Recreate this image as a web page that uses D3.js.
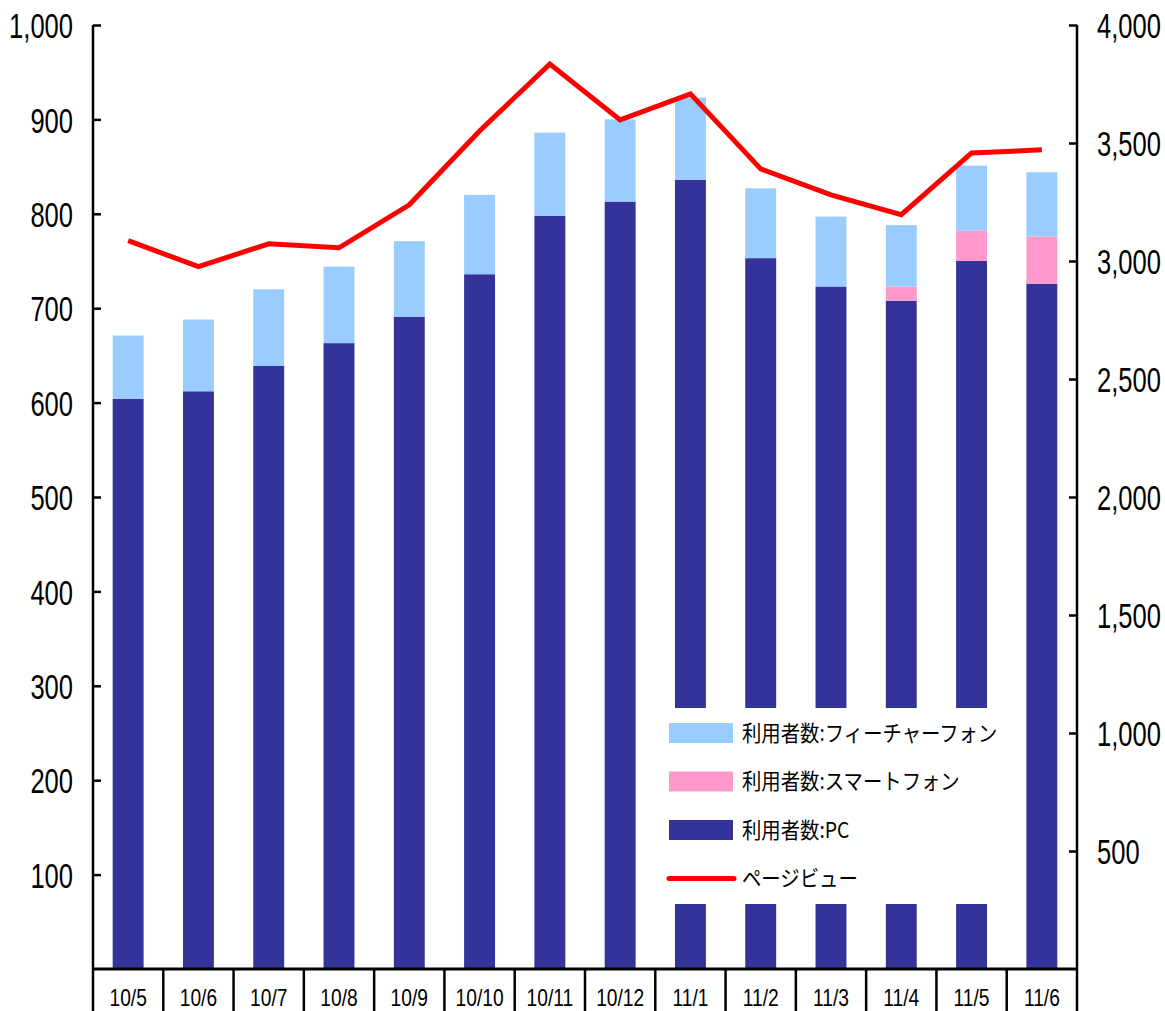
<!DOCTYPE html>
<html>
<head>
<meta charset="utf-8">
<script src="https://cdn.jsdelivr.net/npm/d3@7"></script>
<style>
  body { margin: 0; background: #fff; }
  text { font-family: "Liberation Sans Narrow", "Liberation Sans", Arial, sans-serif; }
  .legend text { font-family: "Noto Sans CJK JP", sans-serif; }
</style>
</head>
<body>
<div id="chart"></div>
<script>
/* Users (stacked bars) and page views (line) by month */

const months = ["10/5", "10/6", "10/7", "10/8", "10/9", "10/10", "10/11", "10/12",
                "11/1", "11/2", "11/3", "11/4", "11/5", "11/6"];
const pcUsers      = [604, 612, 639, 663, 691, 736, 798, 813, 836, 753, 723, 708, 750, 726];
const smartUsers   = [0, 0, 0, 0, 0, 0, 0, 0, 0, 0, 0, 15, 32, 50];
const featureUsers = [67, 76, 81, 81, 80, 84, 88, 87, 87, 74, 74, 65, 69, 68];
const pageViews    = [3086, 2976, 3073, 3056, 3238, 3551, 3835, 3598, 3708, 3390, 3280, 3196, 3458, 3471];
const leftTicks  = [100, 200, 300, 400, 500, 600, 700, 800, 900, 1000];
const rightTicks = [500, 1000, 1500, 2000, 2500, 3000, 3500, 4000];

const seriesNames = ["利用者数:PC", "利用者数:スマートフォン", "利用者数:フィーチャーフォン"];
const colors = ["#333399", "#ff99cc", "#99ccff"];

const width = 1165, height = 1011,
      margin = ({ top: 25, right: 88, bottom: 41, left: 93 });

const squeeze = 0.73; // the reference uses a tall, narrow font

let svg = d3.select("#chart")
    .append("svg")
    .attr("width", width)
    .attr("height", height);

// one row per month for the stack
let rows = months.map((m, i) => ({ month: m, pc: pcUsers[i], smart: smartUsers[i], feature: featureUsers[i] }));
let stacked = d3.stack().keys(["pc", "smart", "feature"])(rows);

let x = d3.scaleBand() // category cells
    .domain(months)
    .range([margin.left, width - margin.right]);

let xBar = d3.scaleBand() // narrower bars centred in each cell
    .domain(months)
    .range([margin.left, width - margin.right])
    .paddingInner(0.56)
    .paddingOuter(0.28);

let y = d3.scaleLinear()
    .domain([0, 1000])
    .range([height - margin.bottom - 1, margin.top]);

let y2 = d3.scaleLinear()
    .domain([0, 4000])
    .range([height - margin.bottom - 1, margin.top]);

// bars
svg.append("g")
    .selectAll("g")
    .data(stacked)
    .join("g")
    .attr("fill", (d, i) => colors[i])
    .selectAll("rect")
    .data(d => d)
    .join("rect")
    .attr("x", d => xBar(d.data.month))
    .attr("width", xBar.bandwidth())
    .attr("y", d => y(d[1]))
    .attr("height", d => y(d[0]) - y(d[1]));

// page view line
let line = d3.line()
    .x((d, i) => x(months[i]) + x.bandwidth() / 2)
    .y(d => y2(d));

svg.append("path")
    .datum(pageViews)
    .attr("fill", "none")
    .attr("stroke", "#ff0000")
    .attr("stroke-width", 5)
    .attr("stroke-linejoin", "miter")
    .attr("d", line);

// left axis
let left = svg.append("g")
    .attr("transform", `translate(${margin.left},0)`)
    .call(d3.axisRight(y).tickValues(leftTicks).tickSize(8).tickFormat(d3.format(",")));
left.select(".domain").remove();
left.selectAll("line").attr("stroke", "#000").attr("stroke-width", 2.5);
left.selectAll("text")
    .attr("transform", `scale(${squeeze},1)`)
    .attr("x", -20 / squeeze)
    .attr("text-anchor", "end")
    .attr("dy", "0.36em")
    .style("font-size", "35px")
    .attr("fill", "#000");

// right axis
let right = svg.append("g")
    .attr("transform", `translate(${width - margin.right},0)`)
    .call(d3.axisLeft(y2).tickValues(rightTicks).tickSize(8).tickFormat(d3.format(",")));
right.select(".domain").remove();
right.selectAll("line").attr("stroke", "#000").attr("stroke-width", 2.5);
right.selectAll("text")
    .attr("transform", `scale(${squeeze},1)`)
    .attr("x", 20 / squeeze)
    .attr("text-anchor", "start")
    .attr("dy", "0.36em")
    .style("font-size", "35px")
    .attr("fill", "#000");

// vertical axis lines (run down through the category row)
[margin.left, width - margin.right].forEach(px => {
    svg.append("line")
        .attr("x1", px).attr("x2", px)
        .attr("y1", margin.top).attr("y2", height)
        .attr("stroke", "#000").attr("stroke-width", 2.5);
});

// x axis line and category cells
let baseY = y(0);
svg.append("line")
    .attr("x1", margin.left).attr("x2", width - margin.right)
    .attr("y1", baseY).attr("y2", baseY)
    .attr("stroke", "#000").attr("stroke-width", 3);

let cells = svg.append("g");
cells.selectAll("line")
    .data(months.slice(1))
    .join("line")
    .attr("x1", d => x(d)).attr("x2", d => x(d))
    .attr("y1", baseY).attr("y2", height)
    .attr("stroke", "#000").attr("stroke-width", 2.5);

cells.selectAll("text")
    .data(months)
    .join("text")
    .attr("transform", d => `translate(${x(d) + x.bandwidth() / 2},${baseY + 28}) scale(0.8,1)`)
    .attr("dy", "0.36em")
    .attr("text-anchor", "middle")
    .style("font-size", "24px")
    .text(d => d);

// legend (white box over the bars)
let legend = svg.append("g").attr("class", "legend");
legend.append("rect")
    .attr("x", 662).attr("y", 708)
    .attr("width", 348).attr("height", 196)
    .attr("fill", "#fff");

let legendItems = [
    { name: seriesNames[2], color: colors[2], type: "rect" },
    { name: seriesNames[1], color: colors[1], type: "rect" },
    { name: seriesNames[0], color: colors[0], type: "rect" },
    { name: "ページビュー", color: "#ff0000", type: "line" }
];

let item = legend.selectAll(".item")
    .data(legendItems)
    .join("g")
    .attr("class", "item")
    .attr("transform", (d, i) => `translate(669,${733 + i * 48.5})`);

item.filter(d => d.type === "rect")
    .append("rect")
    .attr("x", 0).attr("y", -10)
    .attr("width", 64).attr("height", 20)
    .attr("fill", d => d.color);

item.filter(d => d.type === "line")
    .append("line")
    .attr("x1", 0).attr("x2", 65)
    .attr("y1", 0).attr("y2", 0)
    .attr("stroke", d => d.color)
    .attr("stroke-width", 5)
    .attr("stroke-linecap", "round");

item.append("text")
    .attr("transform", "translate(73,0) scale(0.88,1)")
    .attr("dy", "0.35em")
    .style("font-size", "22px")
    .text(d => d.name);
</script>
</body>
</html>
